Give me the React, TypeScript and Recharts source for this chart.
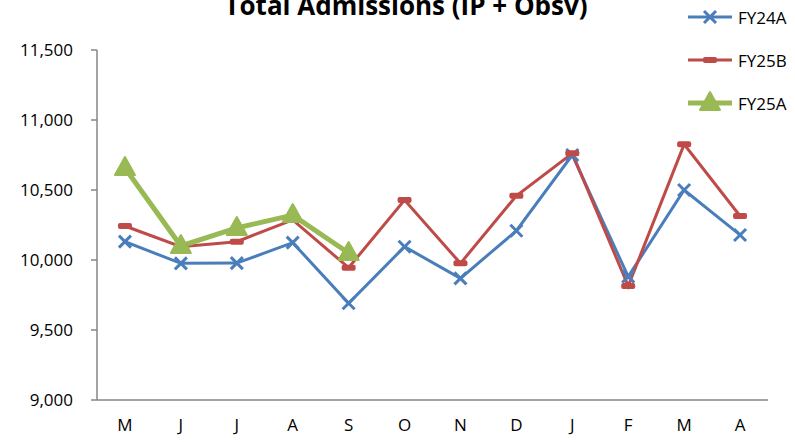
import { LineChart, Line, XAxis, YAxis } from "recharts";

const MONTHS = ["M", "J", "J", "A", "S", "O", "N", "D", "J", "F", "M", "A"];
const FY24A = [10131, 9976, 9978, 10124, 9691, 10095, 9869, 10209, 10750, 9881, 10500, 10179];
const FY25B = [10243, 10095, 10131, 10286, 9945, 10429, 9976, 10459, 10762, 9814, 10826, 10314];
const FY25A = [10657, 10100, 10229, 10321, 10050, null, null, null, null, null, null, null];
const Y_TICKS = [9000, 9500, 10000, 10500, 11000, 11500];
const EDGE_TICKS = [0, 1, 2, 3, 4, 5, 6, 7, 8, 9, 10, 11, 12];

const BLUE = "#4A7EBB";
const RED = "#BE4B48";
const GREEN = "#98B954";
const AXIS = "#868686";
const FONT = "'Open Sans', 'Noto Sans', sans-serif";

const data = MONTHS.map((m, i) => ({
  pos: i + 0.5,
  month: m,
  fy24a: FY24A[i],
  fy25b: FY25B[i],
  fy25a: FY25A[i],
}));

const SERIES = [
  { key: "fy24a", name: "FY24A", color: BLUE, width: 3, marker: "x" },
  { key: "fy25b", name: "FY25B", color: RED, width: 3, marker: "dash" },
  { key: "fy25a", name: "FY25A", color: GREEN, width: 5, marker: "tri" },
];

function Marker({ kind, color, cx, cy }: { kind: string; color: string; cx: number; cy: number }) {
  if (kind === "x") {
    return (
      <g stroke={color} strokeWidth={3}>
        <line x1={cx - 6} y1={cy - 6} x2={cx + 6} y2={cy + 6} />
        <line x1={cx - 6} y1={cy + 6} x2={cx + 6} y2={cy - 6} />
      </g>
    );
  }
  if (kind === "dash") {
    return <rect x={cx - 7} y={cy - 3} width={14} height={6} rx={2} fill={color} />;
  }
  return (
    <path
      d={`M${cx},${cy - 11} L${cx + 10},${cy + 7} L${cx - 10},${cy + 7} Z`}
      fill={color}
      stroke={color}
      strokeWidth={2}
      strokeLinejoin="round"
    />
  );
}

function makeDot(kind: string, color: string) {
  return (props: any) => {
    const { cx, cy, index, value } = props;
    if (value == null || cx == null || cy == null) return <g key={`d-${index}`} />;
    return (
      <g key={`d-${kind}-${index}`}>
        <Marker kind={kind} color={color} cx={cx} cy={cy} />
      </g>
    );
  };
}

function Legend() {
  return (
    <div style={{ position: "absolute", left: 686, top: 0, fontFamily: FONT, fontSize: 17 }}>
      {SERIES.map((s, i) => (
        <div
          key={s.key}
          style={{ position: "absolute", top: 4 + i * 43, left: 0, display: "flex", alignItems: "center", whiteSpace: "nowrap" }}
        >
          <svg width={50} height={26}>
            <line x1={2} y1={13} x2={46} y2={13} stroke={s.color} strokeWidth={s.width} />
            <Marker kind={s.marker} color={s.color} cx={24} cy={13} />
          </svg>
          <span style={{ marginLeft: 2 }}>{s.name}</span>
        </div>
      ))}
    </div>
  );
}

export default function App() {
  return (
    <div style={{ position: "absolute", left: 0, top: 0, width: 795, height: 442, background: "#fff", overflow: "hidden" }}>
      <div
        style={{
          position: "absolute",
          left: 0,
          width: 812,
          top: -13,
          textAlign: "center",
          fontFamily: FONT,
          fontWeight: 700,
          fontSize: 26,
          whiteSpace: "nowrap",
        }}
      >
        Total Admissions (IP + Obsv)
      </div>
      <Legend />
      <LineChart width={795} height={442} data={data} margin={{ top: 50, right: 27, bottom: 0, left: 0 }}>
        <XAxis
          xAxisId="edges"
          dataKey="pos"
          type="number"
          domain={[0, 12]}
          ticks={EDGE_TICKS}
          tick={false}
          height={1}
          stroke={AXIS}
          strokeWidth={1.5}
          tickSize={6}
        />
        <XAxis
          xAxisId="labels"
          dataKey="pos"
          type="number"
          domain={[0, 12]}
          ticks={data.map((d) => d.pos)}
          tickFormatter={(v: number) => MONTHS[Math.floor(v)]}
          axisLine={false}
          tickLine={false}
          height={41}
          tickMargin={12}
          tick={{ fill: "#000", fontFamily: FONT, fontSize: 17 }}
        />
        <YAxis
          domain={[9000, 11500]}
          ticks={Y_TICKS}
          width={97}
          stroke={AXIS}
          strokeWidth={1.5}
          tickSize={6}
          tickMargin={18}
          tickFormatter={(v: number) => v.toLocaleString("en-US")}
          tick={{ fill: "#000", fontFamily: FONT, fontSize: 17 }}
        />
        {SERIES.map((s) => (
          <Line
            key={s.key}
            xAxisId="edges"
            dataKey={s.key}
            name={s.name}
            stroke={s.color}
            strokeWidth={s.width}
            dot={makeDot(s.marker, s.color)}
            activeDot={false}
            isAnimationActive={false}
            connectNulls={false}
          />
        ))}
      </LineChart>
    </div>
  );
}
